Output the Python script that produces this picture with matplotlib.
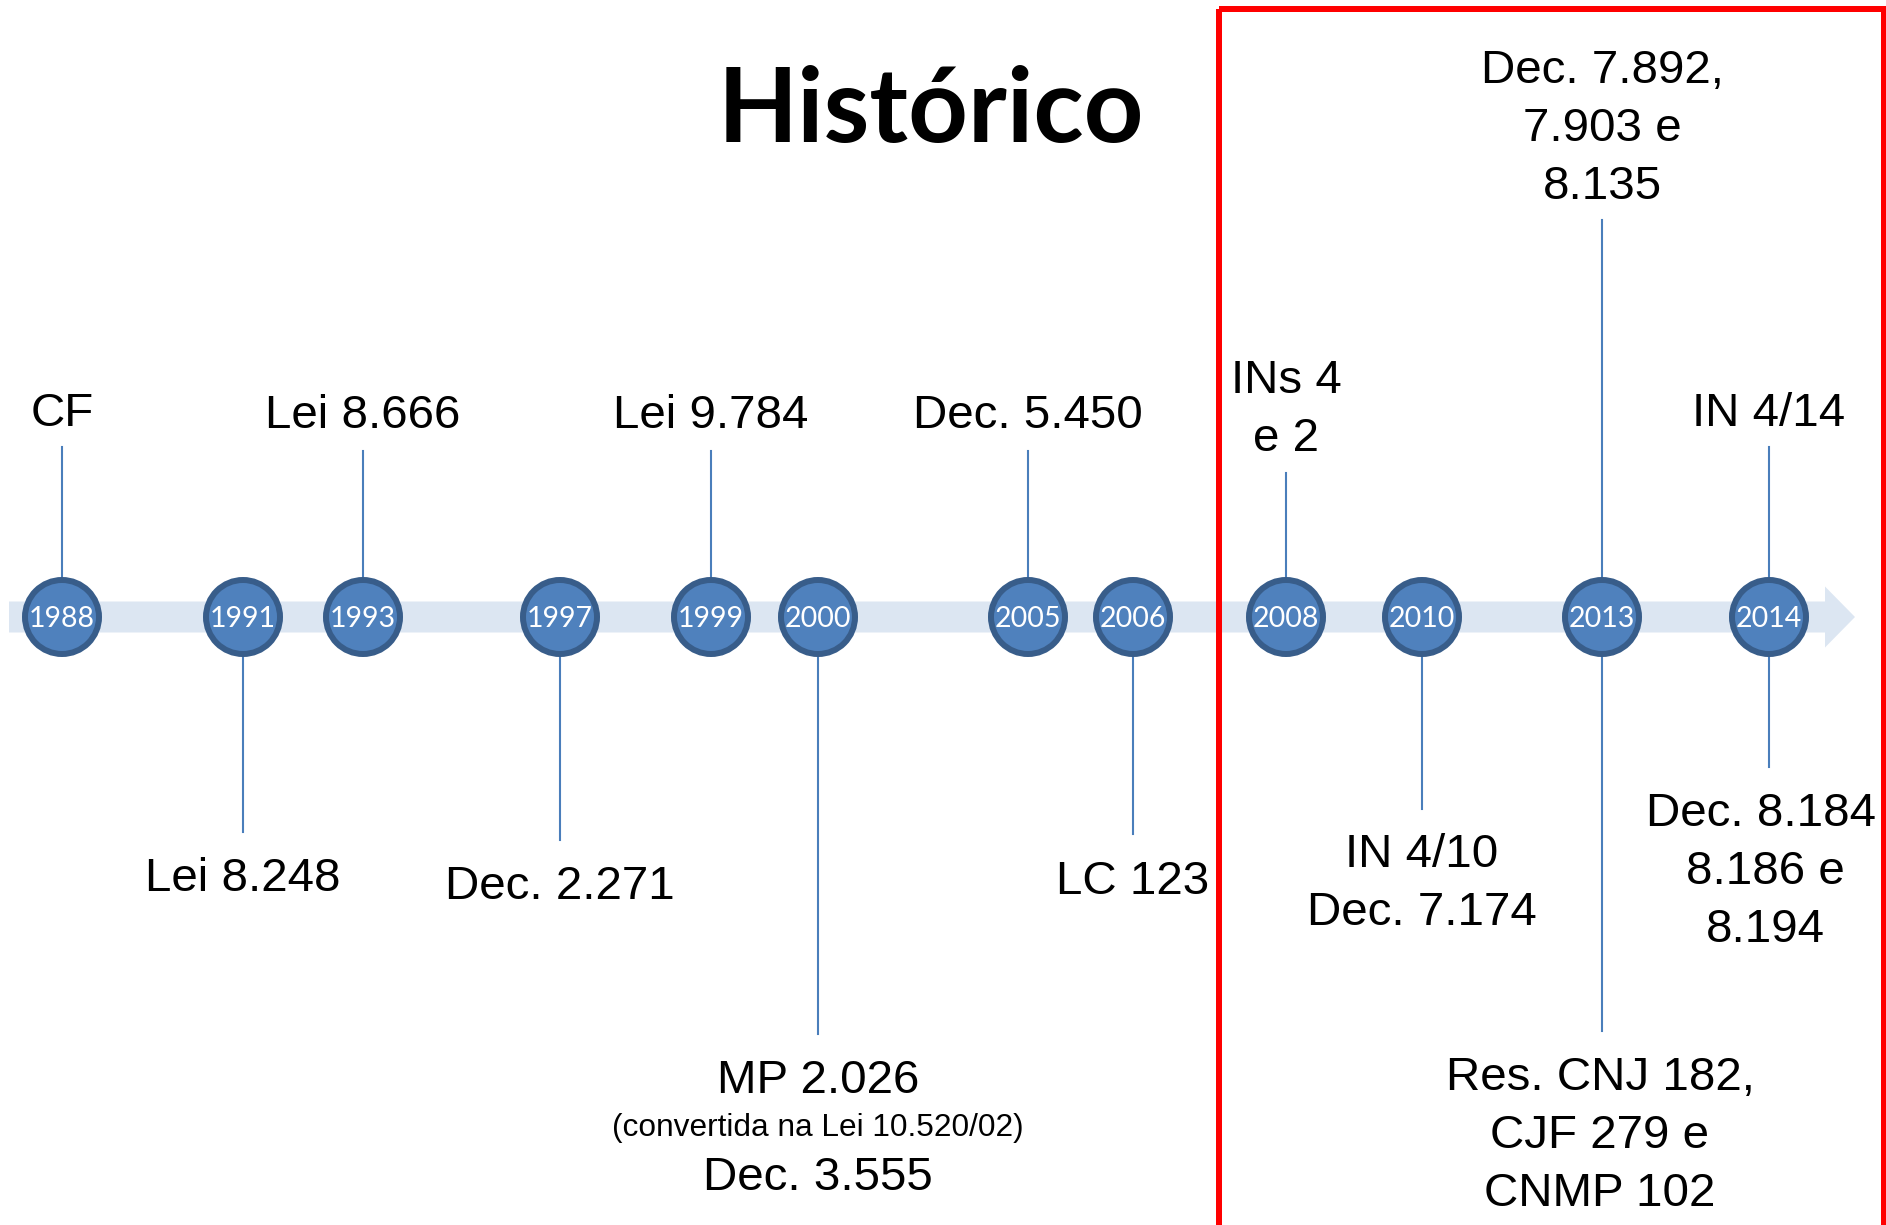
import matplotlib.pyplot as plt
from matplotlib.patches import Circle, FancyArrow, Rectangle

# timeline data
years = ["1988", "1991", "1993", "1997", "1999", "2000",
         "2005", "2006", "2008", "2010", "2013", "2014"]

# labels: (index of year, text, side)
labels = [
    (0, "CF", "up"),
    (1, "Lei 8.248", "down"),
    (2, "Lei 8.666", "up"),
    (3, "Dec. 2.271", "down"),
    (4, "Lei 9.784", "up"),
    (5, "MP 2.026\n(convertida na Lei 10.520/02)\nDec. 3.555", "down"),
    (6, "Dec. 5.450", "up"),
    (7, "LC 123", "down"),
    (8, "INs 4\ne 2", "up"),
    (9, "IN 4/10\nDec. 7.174", "down"),
    (10, "Dec. 7.892,\n7.903 e\n8.135", "up"),
    (10, "Res. CNJ 182,\nCJF 279 e\nCNMP 102", "down"),
    (11, "IN 4/14", "up"),
    (11, "Dec. 8.184\n8.186 e\n8.194", "down"),
]
small_lines = ["(convertida na Lei 10.520/02)"]
title = "Histórico"

# layout (pixel units of the 1886x1225 canvas)
W, H = 1886, 1225
axis_y = 617
year_x = [62, 243, 363, 560, 711, 818, 1028, 1133, 1286, 1422, 1602, 1769]
stem_end = [447, 832, 451, 840, 451, 1034, 451, 834, 473, 809, 220, 1031, 447, 767]
text_y = [409, 874, 411, 882, 411, 1076, 411, 877, 376, 850, 66, 1073, 409, 809]
text_dx = [0, 0, 0, 0, 0, 0, 0, 0, 0, 0, 0, -2, 0, -4]
first_dx = [0, 0, 0, 0, 0, 0, 0, 0, 0, 0, 0, 0, 0, -4]

big_px = 47.5
small_px = 31.7
pitch = 58

band_col = "#dce6f2"
fill_col = "#4f81bd"
edge_col = "#385d8a"
stem_col = "#4a7ebb"

fig = plt.figure(figsize=(W / 100, H / 100), dpi=100)
ax = fig.add_axes([0, 0, 1, 1])
ax.set_xlim(0, W)
ax.set_ylim(H, 0)
ax.axis("off")

def pt(px):
    return px * 0.72

# background arrow
ax.add_patch(FancyArrow(9, axis_y, 1846, 0, width=31, head_width=61,
                        head_length=30, length_includes_head=True,
                        color=band_col, lw=0, zorder=1))

# stems and labels
for k, (i, txt, side) in enumerate(labels):
    x = year_x[i]
    ax.plot([x, x], [axis_y, stem_end[k]], color=stem_col, lw=1.5, zorder=2)
    cy = text_y[k]
    prev_h = None
    for n, line in enumerate(txt.split("\n")):
        px = small_px if line in small_lines else big_px
        h = pitch * px / big_px
        if prev_h is not None:
            cy += (prev_h + h) / 2
        prev_h = h
        dx = text_dx[k] + (first_dx[k] if n == 0 else 0)
        ax.text(x + dx, cy + 0.358 * px, line, ha="center", va="baseline",
                fontsize=pt(px), family="Liberation Sans", color="black", zorder=5)

# year circles
for x, yr in zip(year_x, years):
    ax.add_patch(Circle((x, axis_y), 37, facecolor=fill_col, edgecolor=edge_col,
                        lw=pt(6), zorder=3))
    ax.text(x, axis_y + 10, yr, ha="center", va="baseline", color="white",
            fontsize=20.5, family="Lato", zorder=4)

# title
ax.text(931, 142, title, ha="center", va="baseline", fontsize=75,
        family="Lato", fontweight="bold", color="black")

# red highlight box (bottom edge mostly cut off)
ax.add_patch(Rectangle((1219, 9), 665, 1218, fill=False, edgecolor="red",
                       lw=pt(6), zorder=6, clip_on=True))

fig.savefig("out.png", dpi=100)
